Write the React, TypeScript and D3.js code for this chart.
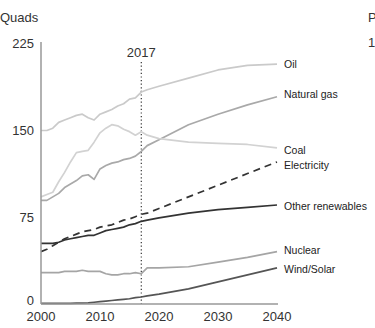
import React from "react";
import * as d3 from "d3";

const histYears = [2000, 2001, 2002, 2003, 2004, 2005, 2006, 2007, 2008, 2009, 2010, 2011, 2012, 2013, 2014, 2015, 2016, 2017];
const projYears = [2018, 2020, 2025, 2030, 2035, 2040];

const oil = [149, 149, 151, 156, 158, 160, 162, 163, 160, 158, 163, 165, 167, 170, 172, 176, 177, 182, 184, 187, 194, 201, 205, 206];
const coal = [92, 94, 96, 105, 113, 122, 130, 131, 132, 139, 147, 151, 154, 153, 150, 148, 145, 148, 145, 142, 139, 138, 137, 134];
const naturalGas = [89, 89, 92, 95, 100, 103, 106, 110, 111, 107, 116, 119, 121, 122, 124, 125, 127, 131, 136, 141, 154, 163, 171, 178];
const electricity = [45, 47, 50, 53, 56, 58, 60, 62, 63, 64, 66, 67, 68, 70, 72, 73, 75, 77, 78, 82, 92, 102, 112, 122];
const otherRenewables = [52, 52, 52, 53, 55, 56, 57, 58, 59, 59, 61, 63, 64, 65, 66, 68, 69, 71, 72, 74, 78, 81, 83, 85];
const nuclear = [27, 27, 27, 27, 28, 28, 28, 29, 28, 28, 28, 26, 25, 25, 26, 26, 27, 26, 31, 31, 32, 36, 40, 45];
const windSolar = [0.5, 0.5, 0.5, 0.5, 0.5, 0.6, 0.7, 0.8, 1, 1.5, 2, 2.5, 3, 3.5, 4, 4.5, 5.5, 6, 7, 8.5, 13, 19, 25, 31];

const seriesNames = ["Oil", "Natural gas", "Coal", "Electricity", "Other renewables", "Nuclear", "Wind/Solar"];
const seriesValues = [oil, naturalGas, coal, electricity, otherRenewables, nuclear, windSolar];
const yTicks = [0, 75, 150, 225];
const xTicks = [2000, 2010, 2020, 2030, 2040];
const markerYear = 2017;

const colors = ["#cacaca", "#a9a9a9", "#d2d2d2", "#333333", "#333333", "#a5a5a5", "#555555"];
const dashes = [null, null, null, "7,5", null, null, null];
const labelNudge = [0, -2, 2, 3, 1, -1, 1];

const FONT = "'Liberation Sans', Arial, sans-serif";

export default function App() {
  const years = [...histYears, ...projYears];
  const x = d3.scaleLinear().domain([2000, 2040]).range([41, 277]);
  const y = d3.scaleLinear().domain([0, 225]).range([304, 42]);
  const line = d3
    .line<number>()
    .x((_, i) => x(years[i]))
    .y((d) => y(d));

  return (
    <svg width={375} height={328} style={{ position: "absolute", left: 0, top: 0 }} fontFamily={FONT}>
      <rect width={375} height={328} fill="#fff" />
      <text x={0} y={22} fontSize={13} fill="#333">Quads</text>
      <text x={368} y={22} fontSize={13} fill="#333">Percent</text>
      <text x={368} y={47} fontSize={13} fill="#333">100</text>

      {yTicks.map((t) => (
        <text key={t} x={34} y={y(t) + (t === 0 ? -4 : 1)} dy="0.35em" textAnchor="end" fontSize={13} fill="#333">
          {t}
        </text>
      ))}
      {xTicks.map((t) => (
        <text key={t} x={x(t)} y={321} textAnchor="middle" fontSize={13} fill="#333">
          {t}
        </text>
      ))}

      <line x1={x(markerYear)} x2={x(markerYear)} y1={62} y2={304} stroke="#333" strokeWidth={1.2} strokeDasharray="1.2,2.4" />
      <text x={x(markerYear)} y={57} textAnchor="middle" fontSize={13} fill="#333">{markerYear}</text>

      {seriesValues.map((vals, i) => (
        <path
          key={seriesNames[i]}
          d={line(vals) || ""}
          fill="none"
          stroke={colors[i]}
          strokeWidth={1.7}
          strokeLinejoin="round"
          strokeDasharray={dashes[i] || undefined}
        />
      ))}

      <line x1={41} x2={41} y1={42} y2={304} stroke="#999" strokeWidth={1.5} />
      <line x1={41} x2={278} y1={304} y2={304} stroke="#999" strokeWidth={1.5} />

      {seriesValues.map((vals, i) => (
        <text
          key={"l" + seriesNames[i]}
          x={284}
          y={y(vals[vals.length - 1]) + labelNudge[i]}
          dy="0.35em"
          fontSize={10.5}
          fill="#222"
        >
          {seriesNames[i]}
        </text>
      ))}
    </svg>
  );
}
